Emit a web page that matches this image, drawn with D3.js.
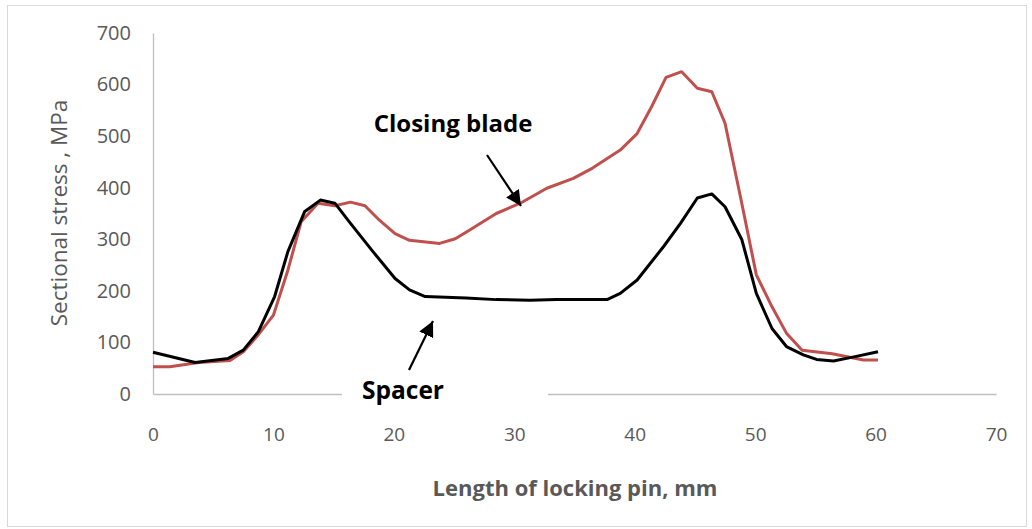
<!DOCTYPE html>
<html lang="en">
<head>
<meta charset="utf-8" />
<title>Sectional stress along locking pin</title>
<style>
  * {margin: 0; padding: 0;}
  body {background: #fff;}
  svg {display: block;}
</style>
<script src="https://cdn.jsdelivr.net/npm/d3@7"></script>
</head>
<body>
<div id="viz"></div>
<script>
// data (x in mm, y in MPa)
var spacerX = [0, 3.5, 6.25, 7.5, 8.75, 10.1, 11.2, 12.6, 13.9, 15.1, 16.4, 18.2, 20.1, 21.3, 22.6, 26, 28.5, 31.3, 33.5, 37.7, 38.8, 40.2, 42.4, 43.8, 45.2, 46.4, 47.5, 48.9, 50.1, 51.4, 52.6, 54, 55.1, 56.5, 58.2, 60.2];
var spacerY = [81, 61, 69, 85, 121, 189, 276, 354, 376, 370, 331, 278, 224, 202, 189, 186, 183, 182, 183, 183, 195, 221, 286, 331, 380, 388, 363, 299, 195, 127, 92, 76, 67, 64, 72, 82];

var bladeX = [0, 1.4, 3.8, 6.4, 7.5, 8.75, 10, 11.2, 12.3, 13.7, 15.1, 16.4, 17.6, 18.8, 20.1, 21.3, 23.8, 25.1, 26.3, 28.5, 30.5, 32.7, 34.9, 36.5, 38.8, 40.2, 41.4, 42.6, 43.9, 45.2, 46.4, 47.5, 48.8, 50.1, 51.4, 52.6, 53.9, 56.4, 59, 60.2];
var bladeY = [53, 53, 61, 65, 82, 115, 153, 240, 334, 370, 365, 372, 365, 337, 311, 298, 292, 301, 318, 350, 370, 399, 418, 438, 473, 505, 557, 614, 625, 593, 586, 525, 380, 231, 169, 118, 85, 78, 66, 66];

var xTicks = [0, 10, 20, 30, 40, 50, 60, 70];
var yTicks = [0, 100, 200, 300, 400, 500, 600, 700];

var w = 1032, h = 529;
var svg = d3.select("#viz").append("svg").attr("width", w).attr("height", h);

// outer chart frame
svg.append("rect").attr("x", 7.5).attr("y", 5.5).attr("width", 1019).attr("height", 521)
  .style("fill", "#fff").style("stroke", "#d9d9d9");

var x = d3.scaleLinear().domain([0, 70]).range([153, 996]);
var y = d3.scaleLinear().domain([0, 700]).range([394, 33]);

var grey = "#595959";

// axes without tick marks
var yAxis = svg.append("g").attr("transform", "translate(" + x(0) + ",0)")
  .call(d3.axisLeft(y).tickValues(yTicks).tickSize(0).tickPadding(22));
yAxis.select(".domain").style("stroke", "#bfbfbf").style("stroke-width", 1.3);
yAxis.selectAll("text").style("font-family", "'Open Sans', sans-serif")
  .style("font-size", "20px").style("fill", grey);

var xAxis = svg.append("g").attr("transform", "translate(0," + y(0) + ")")
  .call(d3.axisBottom(x).tickValues(xTicks).tickSize(0).tickPadding(34));
xAxis.select(".domain").style("stroke", "#bfbfbf").style("stroke-width", 1.3);
xAxis.selectAll("text").style("font-family", "'Liberation Sans Narrow', 'Open Sans', sans-serif")
  .style("font-size", "19px").style("fill", grey);

// axis titles
svg.append("text")
  .attr("transform", "translate(67," + 213 + ") rotate(-90)")
  .attr("text-anchor", "middle")
  .style("font-family", "'Open Sans', sans-serif").style("font-size", "22.5px").style("fill", grey)
  .text("Sectional stress , MPa");

svg.append("text")
  .attr("x", 575).attr("y", 496)
  .attr("text-anchor", "middle")
  .style("font-family", "'Liberation Sans Narrow', 'Open Sans', sans-serif")
  .style("font-size", "22px").style("font-weight", "bold").style("fill", grey)
  .text("Length of locking pin, mm");

// series
var line = d3.line().x(function(d){return x(d[0]);}).y(function(d){return y(d[1]);});

svg.append("path")
  .datum(d3.zip(bladeX, bladeY))
  .attr("d", line)
  .style("fill", "none").style("stroke", "#c0504d").style("stroke-width", 3)
  .style("stroke-linejoin", "round");

svg.append("path")
  .datum(d3.zip(spacerX, spacerY))
  .attr("d", line)
  .style("fill", "none").style("stroke", "#000").style("stroke-width", 3)
  .style("stroke-linejoin", "round");

// arrow heads
svg.append("defs").append("marker")
  .attr("id", "head").attr("viewBox", "0 0 10 10").attr("refX", 10).attr("refY", 5)
  .attr("markerWidth", 7).attr("markerHeight", 7).attr("markerUnits", "strokeWidth")
  .attr("orient", "auto")
  .append("path").attr("d", "M0,0 L10,5 L0,10 z").style("fill", "#000");

// annotation: Closing blade
svg.append("text")
  .attr("x", 453).attr("y", 132).attr("text-anchor", "middle")
  .style("font-family", "'Open Sans', sans-serif").style("font-size", "24px")
  .style("font-weight", "bold").style("fill", "#000")
  .text("Closing blade");
svg.append("line")
  .attr("x1", 487).attr("y1", 155).attr("x2", 521).attr("y2", 206)
  .style("stroke", "#000").style("stroke-width", 2.2).attr("marker-end", "url(#head)");

// annotation: Spacer (white box covers the axis line)
svg.append("rect").attr("x", 342).attr("y", 372).attr("width", 206).attr("height", 36)
  .style("fill", "#fff");
svg.append("text")
  .attr("x", 403).attr("y", 399).attr("text-anchor", "middle")
  .style("font-family", "'Open Sans', sans-serif").style("font-size", "24.5px")
  .style("font-weight", "bold").style("fill", "#000")
  .text("Spacer");
svg.append("line")
  .attr("x1", 409).attr("y1", 370).attr("x2", 433).attr("y2", 321)
  .style("stroke", "#000").style("stroke-width", 2.2).attr("marker-end", "url(#head)");
</script>
</body>
</html>
